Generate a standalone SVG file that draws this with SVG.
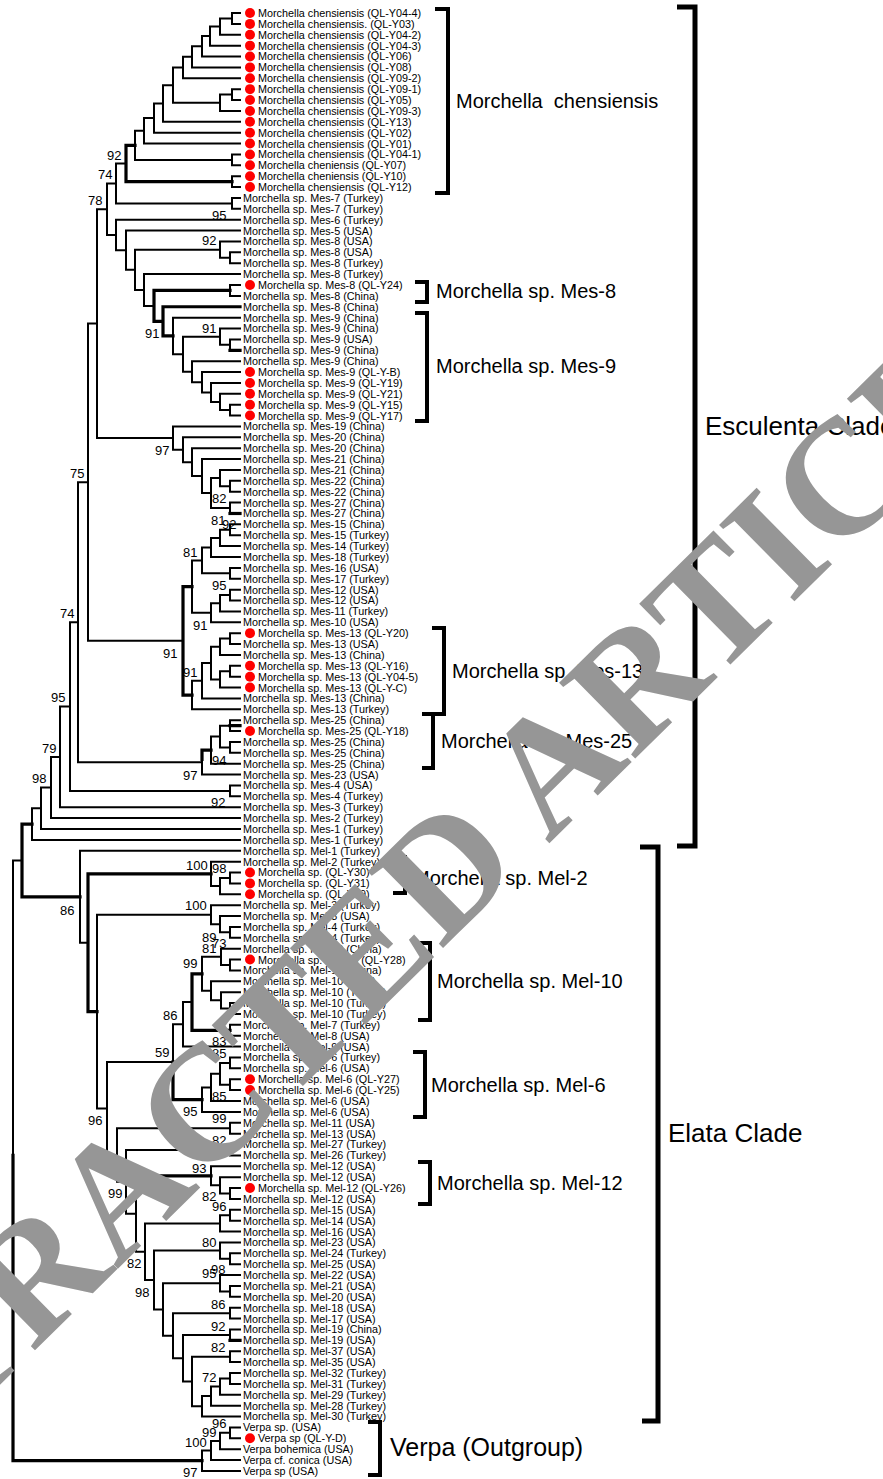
<svg xmlns="http://www.w3.org/2000/svg" width="883" height="1479" viewBox="0 0 883 1479">
<style>
.t{fill:none;stroke:#000;stroke-width:2;vector-effect:non-scaling-stroke;stroke-linecap:square}
.k{fill:none;stroke:#000;stroke-width:3.2;vector-effect:non-scaling-stroke;stroke-linecap:square}
.l{font-family:"Liberation Sans",Arial,sans-serif;font-size:10.8px;fill:#000}
.b{font-family:"Liberation Sans",Arial,sans-serif;font-size:13px;fill:#000}
.g{font-family:"Liberation Sans",Arial,sans-serif;font-size:20px;fill:#000}
.c{font-family:"Liberation Sans",Arial,sans-serif;font-size:26px;fill:#000}
.br{fill:none;stroke:#000;stroke-width:4}
.bb{fill:none;stroke:#000;stroke-width:5}
.d{fill:#ff0000}
.w{font-family:"Liberation Serif","Times New Roman",serif;font-size:164px;font-weight:bold;fill:#969696}
</style>
<rect width="883" height="1479" fill="#fff"/>
<g id="connectors" transform="matrix(1 0 0 10.88 0 13)">
<path class="t" d="M240 0H232V1H240M232 0.5H220V2H240M220 1.25H210V3H240M210 2.125H202V4H240M202 3.0625H192V5H240M192 4.03125H183V6H240M240 7H232V8H240M232 7.5H220V9H240M183 5.0156H173V8.25H220M173 6.6328H163V10H240M163 8.3164H154V11H240M154 9.6582H144V12H240M240 13H232V14H240M144 10.8291H135V13.5H232M240 15H232V16H240M240 17H232V18H240M126 13.8323H116V17.5H232"/>
<path class="k" d="M135 12.1646H126V15.5H232"/>
<path class="t" d="M240 22H230V23H240M240 21H220V22.5H230M240 25H230V26H240M240 28H173V31.359H183M240 29H220V30.5H230M240 30H230V31H240M220 29.75H183V32.969H192M240 36H230V37H240M240 35H220V36.5H230M240 34H211V35.75H220M240 33H202V34.875H211M240 32H192V33.9375H202M240 24H144V26.92H154M220 21.75H135V25.46H144M240 20H126V23.605H135M240 19H116V21.80H126M116 15.666H107V20.40H116"/>
<path class="k" d="M230 25.5H154V28.34H163M240 27H163V29.68H173M230 31H240"/>
<path class="t" d="M240 43H230V44H240M240 42H220V43.5H230M240 45H230V46H240M220 42.75H211V45.5H230M240 41H202V44.125H211M240 40H192V42.5625H202M240 39H183V41.28H192M240 38H173V40.14H183M107 18.03H97V39.07H173"/>
<path class="k" d="M230 46H240"/>
<path class="t" d="M240 47H230V48H240M230 47.5H220V49H240M220 48.25H211V50H240M240 51H230V52H240M211 49.125H202V51.5H230M240 53H230V54H240M230 53.5H220V55H240M220 54.25H211V56H240M202 50.3125H192V55.125H211M240 57H230V58H240M230 57.5H220V59H240M240 60H230V61H240M230 60.5H220V62H240M220 58.25H211V61.25H220M211 59.75H202V63H240M202 61.375H192V64H240M97 28.55H88V57.70H183"/>
<path class="k" d="M192 52.72H183V62.69H192"/>
<path class="t" d="M240 65H230V66H240M240 67H230V68H240M230 65.5H220V67.5H230M220 66.5H211V69H240M211 67.75H202V70H240M88 43.13H78V68.875H202M240 71H230V72H240M78 56.0H70V71.5H230M70 63.75H60V73H240M60 68.375H51V74H240M51 71.19H41V75H240M41 73.09H32V76H240"/>
<path class="k" d="M211 67.75H202V68.6M230 65.5H240"/>
<path class="t" d="M240 79H230V80H240M230 79.5H220V81H240M240 78H211V80.25H220M240 84H230V85H240M240 83H220V84.5H230M240 82H211V83.75H220M240 87H230V88H240M240 86H221V87.5H230M240 91H230V92H240M240 90H221V91.5H230M240 89H211V90.75H221M221 86.75H202V89.875H211M240 93H230V94H240M192 90.9H183V95H240"/>
<path class="k" d="M202 88.31H192V93.5H230"/>
<path class="t" d="M240 96H230V97H240M240 98H230V99H240M230 96.5H220V98.5H230M220 97.5H211V100H240M211 98.75H202V101H240M183 92.95H173V99.875H202"/>
<path class="k" d="M173 96.41V99.875H202"/>
<path class="t" d="M240 102H230V103H240M240 104H230V105H240M240 108H230V109H240M240 107H220V108.5H230M240 106H211V107.75H220M240 110H230V111H240M230 110.5H220V112H240M240 114H230V115H240M240 113H220V114.5H230M240 117H230V118H240M240 116H220V117.5H230M240 119H230V120H240M240 121H230V122H240M240 123H230V124H240M240 125H230V126H240M230 125.5H220V127H240M220 126.25H211V128H240M211 127.125H202V129H240M230 123.5H192V128.06H202M230 121.5H183V125.78H192M230 119.5H173V123.64H183M220 116.75H163V121.57H173M220 113.75H154V119.16H163M220 111.25H145V116.45H154M136 106.875V113.85H145M230 104.5H126V110.36H136M230 102.5H117V107.43H126M173 96.41H107V104.97H117M211 82.875H97V100.69H107M240 77H80V85.45H88"/>
<path class="k" d="M211 106.875H136M230 122H240M211 79.125H88V91.78H97M32 74.55H22V81.23H80"/>
<path class="t" d="M240 130H230V131H240M230 130.5H220V132H240M220 131.25H211V133H240M211 132.125H202V134H240M22 77.89H13V105"/>
<path class="k" d="M13 105V133.06H202"/>
</g>
<g id="brackets">
<path class="br" d="M435 9H448V193H435"/>
<path class="bb" d="M677 7H695V846H677"/>
<path class="br" d="M415 282H427V302H415"/>
<path class="br" d="M415 313H427V421H415"/>
<path class="br" d="M432 628H444V714H422"/>
<path class="br" d="M433 714V768H422"/>
<path class="br" d="M393 857H405V893H393"/>
<path class="bb" d="M640 847H658V1421H642"/>
<path class="br" d="M418 943H430V1020H418"/>
<path class="br" d="M413 1052H425V1117H413"/>
<path class="br" d="M418 1162H430V1204H418"/>
<path class="br" d="M368 1422H380V1475H368"/>
</g>
<g id="group-labels">
<text class="g" x="456" y="108" xml:space="preserve">Morchella  chensiensis</text>
<text class="g" x="436" y="298">Morchella sp. Mes-8</text>
<text class="g" x="436" y="373">Morchella sp. Mes-9</text>
<text class="c" x="705" y="435">Esculenta Clade</text>
<text class="g" x="452" y="678">Morchella sp. Mes-13</text>
<text class="g" x="441" y="748">Morchella sp. Mes-25</text>
<text class="g" x="413" y="885">Morchella sp. Mel-2</text>
<text class="g" x="437" y="988">Morchella sp. Mel-10</text>
<text class="g" x="431" y="1092">Morchella sp. Mel-6</text>
<text class="c" x="668" y="1142">Elata Clade</text>
<text class="g" x="437" y="1190">Morchella sp. Mel-12</text>
<text class="c" x="390" y="1456" style="font-size:25px">Verpa (Outgroup)</text>
</g>
<g id="bootstrap" class="b">
<text x="107" y="160">92</text><text x="98" y="179">74</text><text x="88" y="205">78</text>
<text x="212" y="220">95</text><text x="202" y="245">92</text><text x="145" y="338">91</text>
<text x="202" y="333">91</text><text x="155" y="455">97</text><text x="70" y="478">75</text>
<text x="212" y="503">82</text><text x="211" y="525">81</text><text x="222" y="529">92</text>
<text x="183" y="557">81</text><text x="212" y="590">95</text><text x="193" y="630">91</text>
<text x="60" y="618">74</text><text x="163" y="658">91</text><text x="183" y="677">91</text>
<text x="51" y="702">95</text><text x="42" y="753">79</text><text x="212" y="765">94</text>
<text x="183" y="780">97</text><text x="32" y="783">98</text><text x="211" y="807">92</text>
<text x="186" y="870">100</text><text x="212" y="873">98</text><text x="60" y="915">86</text>
<text x="185" y="910">100</text><text x="202" y="942">89</text><text x="202" y="953">81</text>
<text x="212" y="948">73</text><text x="183" y="968">99</text><text x="163" y="1020">86</text>
<text x="212" y="1046">83</text><text x="155" y="1057">59</text><text x="212" y="1058">85</text>
<text x="212" y="1101">85</text><text x="183" y="1116">95</text><text x="88" y="1125">96</text>
<text x="212" y="1123">99</text><text x="212" y="1145">82</text><text x="98" y="1171">95</text>
<text x="192" y="1173">93</text><text x="108" y="1198">99</text><text x="202" y="1201">82</text>
<text x="212" y="1211">96</text><text x="202" y="1247">80</text><text x="127" y="1268">82</text>
<text x="202" y="1278">95</text><text x="211" y="1274">98</text><text x="135" y="1297">98</text>
<text x="211" y="1309">86</text><text x="211" y="1331">92</text><text x="211" y="1352">82</text>
<text x="202" y="1382">72</text><text x="212" y="1428">96</text><text x="202" y="1437">99</text>
<text x="185" y="1447">100</text><text x="183" y="1477">97</text>
</g>
<g id="leaves" class="l">
<g id="leaf-0"><circle class="d" cx="250" cy="13" r="5"/><text x="258" y="16.9">Morchella chensiensis (QL-Y04-4)</text></g>
<g id="leaf-1"><circle class="d" cx="250" cy="23.88" r="5"/><text x="258" y="27.8">Morchella chensiensis. (QL-Y03)</text></g>
<g id="leaf-2"><circle class="d" cx="250" cy="34.76" r="5"/><text x="258" y="38.7">Morchella chensiensis (QL-Y04-2)</text></g>
<g id="leaf-3"><circle class="d" cx="250" cy="45.64" r="5"/><text x="258" y="49.5">Morchella chensiensis (QL-Y04-3)</text></g>
<g id="leaf-4"><circle class="d" cx="250" cy="56.52" r="5"/><text x="258" y="60.4">Morchella chensiensis (QL-Y06)</text></g>
<g id="leaf-5"><circle class="d" cx="250" cy="67.4" r="5"/><text x="258" y="71.3">Morchella chensiensis (QL-Y08)</text></g>
<g id="leaf-6"><circle class="d" cx="250" cy="78.28" r="5"/><text x="258" y="82.2">Morchella chensiensis (QL-Y09-2)</text></g>
<g id="leaf-7"><circle class="d" cx="250" cy="89.16" r="5"/><text x="258" y="93.1">Morchella chensiensis (QL-Y09-1)</text></g>
<g id="leaf-8"><circle class="d" cx="250" cy="100.04" r="5"/><text x="258" y="103.9">Morchella chensiensis (QL-Y05)</text></g>
<g id="leaf-9"><circle class="d" cx="250" cy="110.92" r="5"/><text x="258" y="114.8">Morchella chensiensis (QL-Y09-3)</text></g>
<g id="leaf-10"><circle class="d" cx="250" cy="121.8" r="5"/><text x="258" y="125.7">Morchella chensiensis (QL-Y13)</text></g>
<g id="leaf-11"><circle class="d" cx="250" cy="132.68" r="5"/><text x="258" y="136.6">Morchella chensiensis (QL-Y02)</text></g>
<g id="leaf-12"><circle class="d" cx="250" cy="143.56" r="5"/><text x="258" y="147.5">Morchella chensiensis (QL-Y01)</text></g>
<g id="leaf-13"><circle class="d" cx="250" cy="154.44" r="5"/><text x="258" y="158.3">Morchella chensiensis (QL-Y04-1)</text></g>
<g id="leaf-14"><circle class="d" cx="250" cy="165.32" r="5"/><text x="258" y="169.2">Morchella cheniensis (QL-Y07)</text></g>
<g id="leaf-15"><circle class="d" cx="250" cy="176.2" r="5"/><text x="258" y="180.1">Morchella cheniensis (QL-Y10)</text></g>
<g id="leaf-16"><circle class="d" cx="250" cy="187.08" r="5"/><text x="258" y="191">Morchella chensiensis (QL-Y12)</text></g>
<g id="leaf-17"><text x="243" y="201.9">Morchella sp. Mes-7 (Turkey)</text></g>
<g id="leaf-18"><text x="243" y="212.7">Morchella sp. Mes-7 (Turkey)</text></g>
<g id="leaf-19"><text x="243" y="223.6">Morchella sp. Mes-6 (Turkey)</text></g>
<g id="leaf-20"><text x="243" y="234.5">Morchella sp. Mes-5 (USA)</text></g>
<g id="leaf-21"><text x="243" y="245.4">Morchella sp. Mes-8 (USA)</text></g>
<g id="leaf-22"><text x="243" y="256.3">Morchella sp. Mes-8 (USA)</text></g>
<g id="leaf-23"><text x="243" y="267.1">Morchella sp. Mes-8 (Turkey)</text></g>
<g id="leaf-24"><text x="243" y="278">Morchella sp. Mes-8 (Turkey)</text></g>
<g id="leaf-25"><circle class="d" cx="250" cy="285" r="5"/><text x="258" y="288.9">Morchella sp. Mes-8 (QL-Y24)</text></g>
<g id="leaf-26"><text x="243" y="299.8">Morchella sp. Mes-8 (China)</text></g>
<g id="leaf-27"><text x="243" y="310.7">Morchella sp. Mes-8 (China)</text></g>
<g id="leaf-28"><text x="243" y="321.5">Morchella sp. Mes-9 (China)</text></g>
<g id="leaf-29"><text x="243" y="332.4">Morchella sp. Mes-9 (China)</text></g>
<g id="leaf-30"><text x="243" y="343.3">Morchella sp. Mes-9 (USA)</text></g>
<g id="leaf-31"><text x="243" y="354.2">Morchella sp. Mes-9 (China)</text></g>
<g id="leaf-32"><text x="243" y="365.1">Morchella sp. Mes-9 (China)</text></g>
<g id="leaf-33"><circle class="d" cx="250" cy="372.04" r="5"/><text x="258" y="375.9">Morchella sp. Mes-9 (QL-Y-B)</text></g>
<g id="leaf-34"><circle class="d" cx="250" cy="382.92" r="5"/><text x="258" y="386.8">Morchella sp. Mes-9 (QL-Y19)</text></g>
<g id="leaf-35"><circle class="d" cx="250" cy="393.8" r="5"/><text x="258" y="397.7">Morchella sp. Mes-9 (QL-Y21)</text></g>
<g id="leaf-36"><circle class="d" cx="250" cy="404.68" r="5"/><text x="258" y="408.6">Morchella sp. Mes-9 (QL-Y15)</text></g>
<g id="leaf-37"><circle class="d" cx="250" cy="415.56" r="5"/><text x="258" y="419.5">Morchella sp. Mes-9 (QL-Y17)</text></g>
<g id="leaf-38"><text x="243" y="430.3">Morchella sp. Mes-19 (China)</text></g>
<g id="leaf-39"><text x="243" y="441.2">Morchella sp. Mes-20 (China)</text></g>
<g id="leaf-40"><text x="243" y="452.1">Morchella sp. Mes-20 (China)</text></g>
<g id="leaf-41"><text x="243" y="463">Morchella sp. Mes-21 (China)</text></g>
<g id="leaf-42"><text x="243" y="473.9">Morchella sp. Mes-21 (China)</text></g>
<g id="leaf-43"><text x="243" y="484.7">Morchella sp. Mes-22 (China)</text></g>
<g id="leaf-44"><text x="243" y="495.6">Morchella sp. Mes-22 (China)</text></g>
<g id="leaf-45"><text x="243" y="506.5">Morchella sp. Mes-27 (China)</text></g>
<g id="leaf-46"><text x="243" y="517.4">Morchella sp. Mes-27 (China)</text></g>
<g id="leaf-47"><text x="243" y="528.3">Morchella sp. Mes-15 (China)</text></g>
<g id="leaf-48"><text x="243" y="539.1">Morchella sp. Mes-15 (Turkey)</text></g>
<g id="leaf-49"><text x="243" y="550">Morchella sp. Mes-14 (Turkey)</text></g>
<g id="leaf-50"><text x="243" y="560.9">Morchella sp. Mes-18 (Turkey)</text></g>
<g id="leaf-51"><text x="243" y="571.8">Morchella sp. Mes-16 (USA)</text></g>
<g id="leaf-52"><text x="243" y="582.7">Morchella sp. Mes-17 (Turkey)</text></g>
<g id="leaf-53"><text x="243" y="593.5">Morchella sp. Mes-12 (USA)</text></g>
<g id="leaf-54"><text x="243" y="604.4">Morchella sp. Mes-12 (USA)</text></g>
<g id="leaf-55"><text x="243" y="615.3">Morchella sp. Mes-11 (Turkey)</text></g>
<g id="leaf-56"><text x="243" y="626.2">Morchella sp. Mes-10 (USA)</text></g>
<g id="leaf-57"><circle class="d" cx="250" cy="633.16" r="5"/><text x="258" y="637.1">Morchella sp. Mes-13 (QL-Y20)</text></g>
<g id="leaf-58"><text x="243" y="647.9">Morchella sp. Mes-13 (USA)</text></g>
<g id="leaf-59"><text x="243" y="658.8">Morchella sp. Mes-13 (China)</text></g>
<g id="leaf-60"><circle class="d" cx="250" cy="665.8" r="5"/><text x="258" y="669.7">Morchella sp. Mes-13 (QL-Y16)</text></g>
<g id="leaf-61"><circle class="d" cx="250" cy="676.68" r="5"/><text x="258" y="680.6">Morchella sp. Mes-13 (QL-Y04-5)</text></g>
<g id="leaf-62"><circle class="d" cx="250" cy="687.56" r="5"/><text x="258" y="691.5">Morchella sp. Mes-13 (QL-Y-C)</text></g>
<g id="leaf-63"><text x="243" y="702.3">Morchella sp. Mes-13 (China)</text></g>
<g id="leaf-64"><text x="243" y="713.2">Morchella sp. Mes-13 (Turkey)</text></g>
<g id="leaf-65"><text x="243" y="724.1">Morchella sp. Mes-25 (China)</text></g>
<g id="leaf-66"><circle class="d" cx="250" cy="731.08" r="5"/><text x="258" y="735">Morchella sp. Mes-25 (QL-Y18)</text></g>
<g id="leaf-67"><text x="243" y="745.9">Morchella sp. Mes-25 (China)</text></g>
<g id="leaf-68"><text x="243" y="756.7">Morchella sp. Mes-25 (China)</text></g>
<g id="leaf-69"><text x="243" y="767.6">Morchella sp. Mes-25 (China)</text></g>
<g id="leaf-70"><text x="243" y="778.5">Morchella sp. Mes-23 (USA)</text></g>
<g id="leaf-71"><text x="243" y="789.4">Morchella sp. Mes-4 (USA)</text></g>
<g id="leaf-72"><text x="243" y="800.3">Morchella sp. Mes-4 (Turkey)</text></g>
<g id="leaf-73"><text x="243" y="811.1">Morchella sp. Mes-3 (Turkey)</text></g>
<g id="leaf-74"><text x="243" y="822">Morchella sp. Mes-2 (Turkey)</text></g>
<g id="leaf-75"><text x="243" y="832.9">Morchella sp. Mes-1 (Turkey)</text></g>
<g id="leaf-76"><text x="243" y="843.8">Morchella sp. Mes-1 (Turkey)</text></g>
<g id="leaf-77"><text x="243" y="854.7">Morchella sp. Mel-1 (Turkey)</text></g>
<g id="leaf-78"><text x="243" y="865.5">Morchella sp. Mel-2 (Turkey)</text></g>
<g id="leaf-79"><circle class="d" cx="250" cy="872.52" r="5"/><text x="258" y="876.4">Morchella sp. (QL-Y30)</text></g>
<g id="leaf-80"><circle class="d" cx="250" cy="883.4" r="5"/><text x="258" y="887.3">Morchella sp. (QL-Y31)</text></g>
<g id="leaf-81"><circle class="d" cx="250" cy="894.28" r="5"/><text x="258" y="898.2">Morchella sp. (QL-Y29)</text></g>
<g id="leaf-82"><text x="243" y="909.1">Morchella sp. Mel-3 (Turkey)</text></g>
<g id="leaf-83"><text x="243" y="919.9">Morchella sp. Mel-3 (USA)</text></g>
<g id="leaf-84"><text x="243" y="930.8">Morchella sp. Mel-4 (Turkey)</text></g>
<g id="leaf-85"><text x="243" y="941.7">Morchella sp. Mel-4 (Turkey)</text></g>
<g id="leaf-86"><text x="243" y="952.6">Morchella sp. Mel-10 (China)</text></g>
<g id="leaf-87"><circle class="d" cx="250" cy="959.56" r="5"/><text x="258" y="963.5">Morchella sp. Mel-10 (QL-Y28)</text></g>
<g id="leaf-88"><text x="243" y="974.3">Morchella sp. Mel-10 (China)</text></g>
<g id="leaf-89"><text x="243" y="985.2">Morchella sp. Mel-10 (USA)</text></g>
<g id="leaf-90"><text x="243" y="996.1">Morchella sp. Mel-10 (Turkey)</text></g>
<g id="leaf-91"><text x="243" y="1007">Morchella sp. Mel-10 (Turkey)</text></g>
<g id="leaf-92"><text x="243" y="1017.9">Morchella sp. Mel-10 (Turkey)</text></g>
<g id="leaf-93"><text x="243" y="1028.7">Morchella sp. Mel-7 (Turkey)</text></g>
<g id="leaf-94"><text x="243" y="1039.6">Morchella sp. Mel-8 (USA)</text></g>
<g id="leaf-95"><text x="243" y="1050.5">Morchella sp. Mel-9 (USA)</text></g>
<g id="leaf-96"><text x="243" y="1061.4">Morchella sp. Mel-6 (Turkey)</text></g>
<g id="leaf-97"><text x="243" y="1072.3">Morchella sp. Mel-6 (USA)</text></g>
<g id="leaf-98"><circle class="d" cx="250" cy="1079.24" r="5"/><text x="258" y="1083.1">Morchella sp. Mel-6 (QL-Y27)</text></g>
<g id="leaf-99"><circle class="d" cx="250" cy="1090.12" r="5"/><text x="258" y="1094">Morchella sp. Mel-6 (QL-Y25)</text></g>
<g id="leaf-100"><text x="243" y="1104.9">Morchella sp. Mel-6 (USA)</text></g>
<g id="leaf-101"><text x="243" y="1115.8">Morchella sp. Mel-6 (USA)</text></g>
<g id="leaf-102"><text x="243" y="1126.7">Morchella sp. Mel-11 (USA)</text></g>
<g id="leaf-103"><text x="243" y="1137.5">Morchella sp. Mel-13 (USA)</text></g>
<g id="leaf-104"><text x="243" y="1148.4">Morchella sp. Mel-27 (Turkey)</text></g>
<g id="leaf-105"><text x="243" y="1159.3">Morchella sp. Mel-26 (Turkey)</text></g>
<g id="leaf-106"><text x="243" y="1170.2">Morchella sp. Mel-12 (USA)</text></g>
<g id="leaf-107"><text x="243" y="1181.1">Morchella sp. Mel-12 (USA)</text></g>
<g id="leaf-108"><circle class="d" cx="250" cy="1188.04" r="5"/><text x="258" y="1191.9">Morchella sp. Mel-12 (QL-Y26)</text></g>
<g id="leaf-109"><text x="243" y="1202.8">Morchella sp. Mel-12 (USA)</text></g>
<g id="leaf-110"><text x="243" y="1213.7">Morchella sp. Mel-15 (USA)</text></g>
<g id="leaf-111"><text x="243" y="1224.6">Morchella sp. Mel-14 (USA)</text></g>
<g id="leaf-112"><text x="243" y="1235.5">Morchella sp. Mel-16 (USA)</text></g>
<g id="leaf-113"><text x="243" y="1246.3">Morchella sp. Mel-23 (USA)</text></g>
<g id="leaf-114"><text x="243" y="1257.2">Morchella sp. Mel-24 (Turkey)</text></g>
<g id="leaf-115"><text x="243" y="1268.1">Morchella sp. Mel-25 (USA)</text></g>
<g id="leaf-116"><text x="243" y="1279">Morchella sp. Mel-22 (USA)</text></g>
<g id="leaf-117"><text x="243" y="1289.9">Morchella sp. Mel-21 (USA)</text></g>
<g id="leaf-118"><text x="243" y="1300.7">Morchella sp. Mel-20 (USA)</text></g>
<g id="leaf-119"><text x="243" y="1311.6">Morchella sp. Mel-18 (USA)</text></g>
<g id="leaf-120"><text x="243" y="1322.5">Morchella sp. Mel-17 (USA)</text></g>
<g id="leaf-121"><text x="243" y="1333.4">Morchella sp. Mel-19 (China)</text></g>
<g id="leaf-122"><text x="243" y="1344.3">Morchella sp. Mel-19 (USA)</text></g>
<g id="leaf-123"><text x="243" y="1355.1">Morchella sp. Mel-37 (USA)</text></g>
<g id="leaf-124"><text x="243" y="1366">Morchella sp. Mel-35 (USA)</text></g>
<g id="leaf-125"><text x="243" y="1376.9">Morchella sp. Mel-32 (Turkey)</text></g>
<g id="leaf-126"><text x="243" y="1387.8">Morchella sp. Mel-31 (Turkey)</text></g>
<g id="leaf-127"><text x="243" y="1398.7">Morchella sp. Mel-29 (Turkey)</text></g>
<g id="leaf-128"><text x="243" y="1409.5">Morchella sp. Mel-28 (Turkey)</text></g>
<g id="leaf-129"><text x="243" y="1420.4">Morchella sp. Mel-30 (Turkey)</text></g>
<g id="leaf-130"><text x="243" y="1431.3">Verpa sp. (USA)</text></g>
<g id="leaf-131"><circle class="d" cx="250" cy="1438.28" r="5"/><text x="258" y="1442.2">Verpa sp (QL-Y-D)</text></g>
<g id="leaf-132"><text x="243" y="1453.1">Verpa bohemica (USA)</text></g>
<g id="leaf-133"><text x="243" y="1463.9">Verpa cf. conica (USA)</text></g>
<g id="leaf-134"><text x="243" y="1474.8">Verpa sp (USA)</text></g>
</g>
<g id="watermark">
<text class="w" transform="translate(-207.8 1589.8) rotate(-44.6)">RETRACTED ARTICLE</text>
</g>
</svg>
